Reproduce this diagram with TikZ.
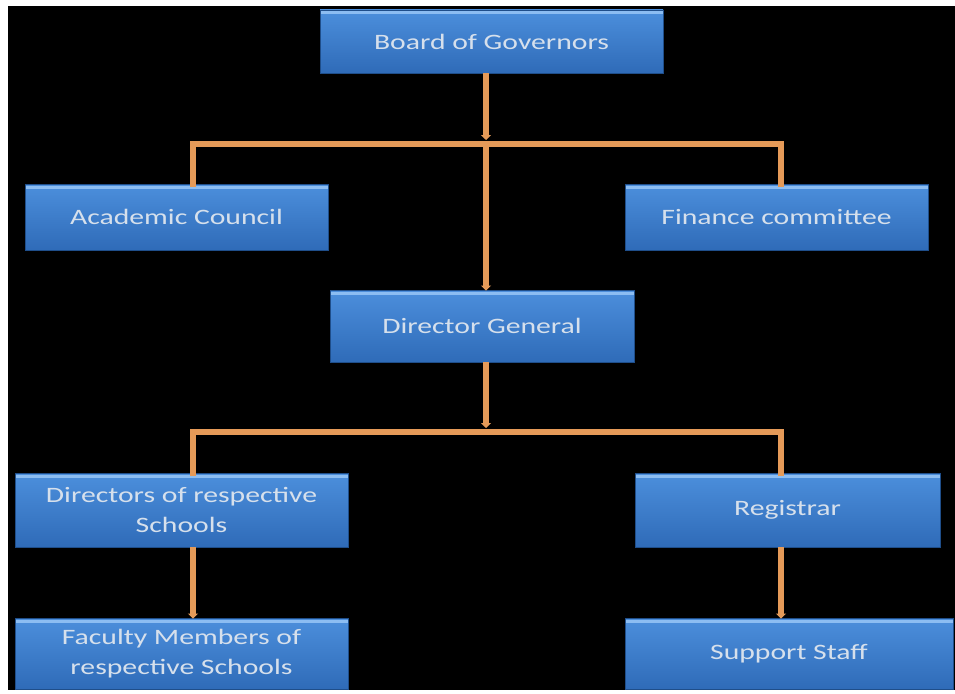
\documentclass[tikz,border=0pt]{standalone}
\usepackage{fontspec}
\newfontfamily\boxfont[FakeStretch=1.35]{Carlito}
\usetikzlibrary{arrows.meta,calc}
\definecolor{boxtop}{HTML}{4C8FDC}
\definecolor{boxbot}{HTML}{2F6BB8}
\definecolor{boxhi}{HTML}{8CBDF2}
\definecolor{boxedge}{HTML}{1F4E8A}
\definecolor{conncol}{HTML}{E59A58}
\definecolor{txtcol}{HTML}{D6E0EC}
\begin{document}
\begin{tikzpicture}[x=1pt,y=-1pt,
  orgbox/.style={rectangle, inner sep=0pt, top color=boxtop, bottom color=boxbot,
    draw=boxedge, line width=0.8pt, text=txtcol, align=center,
    font=\boxfont\fontsize{22}{30}\selectfont,
    path picture={\fill[boxhi] ([yshift=-1.5pt]path picture bounding box.north west) rectangle ([yshift=-4.5pt]path picture bounding box.north east);}},
  conn/.style={draw=conncol, line width=6pt},
  arr/.style={conn, -{Triangle[width=10pt,length=5pt]}, shorten >=-1pt}
]
\useasboundingbox (0,0) rectangle (955,693);
\fill[white] (0,0) rectangle (955,693);
\fill[black] (8,6) rectangle (955,690);

\node[orgbox, minimum width=343pt, minimum height=63pt] (bog) at (491.5,41.5) {Board of Governors};
\node[orgbox, minimum width=303pt, minimum height=66pt] (ac) at (176.5,217) {Academic Council};
\node[orgbox, minimum width=303pt, minimum height=66pt] (fc) at (776.5,217) {Finance committee};
\node[orgbox, minimum width=304pt, minimum height=72pt] (dg) at (482,326) {Director General};
\node[orgbox, minimum width=333pt, minimum height=74pt] (dir) at (181.5,510) {Directors of respective\\Schools};
\node[orgbox, minimum width=305pt, minimum height=74pt] (reg) at (787.5,510) {Registrar};
\node[orgbox, minimum width=333pt, minimum height=71pt] (fac) at (181.5,653.5) {Faculty Members of\\respective Schools};
\node[orgbox, minimum width=328pt, minimum height=71pt] (ss) at (789,653.5) {Support Staff};

\coordinate (t1) at (486,144);
\coordinate (l1) at (193,144);
\coordinate (r1) at (781,144);
\coordinate (t2) at (486,432);
\coordinate (l2) at (193,432);
\coordinate (r2) at (781,432);
\coordinate (a1) at (486,139);
\coordinate (a2) at (486,427);

\draw[conn] (l1) -- (r1);
\draw[conn] (l2) -- (r2);
\draw[arr] (t1 |- bog.south) -- (a1);
\draw[conn, line cap=rect] (l1) -- (l1 |- ac.north);
\draw[conn, line cap=rect] (r1) -- (r1 |- fc.north);
\draw[arr] (t1) -- (t1 |- dg.north);
\draw[arr] (t2 |- dg.south) -- (a2);
\draw[conn, line cap=rect] (l2) -- (l2 |- dir.north);
\draw[conn, line cap=rect] (r2) -- (r2 |- reg.north);
\draw[arr] (l2 |- dir.south) -- (l2 |- fac.north);
\draw[arr] (r2 |- reg.south) -- (r2 |- ss.north);
\end{tikzpicture}
\end{document}
